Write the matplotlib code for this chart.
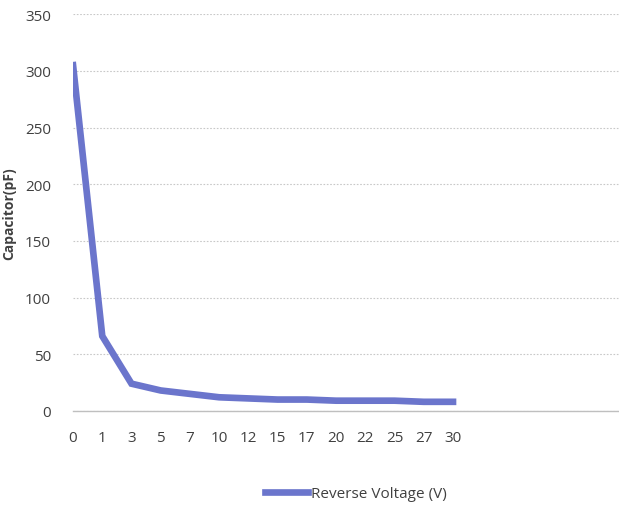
import matplotlib.pyplot as plt

plt.rcParams['font.family'] = ['Open Sans', 'DejaVu Sans']

voltage = ['0', '1', '3', '5', '7', '10', '12', '15', '17', '20', '22', '25', '27', '30']
capacitance = [305, 66, 24, 18, 15, 12, 11, 10, 10, 9, 9, 9, 8, 8]

fig = plt.figure(figsize=(6.19, 5.06), dpi=100)
ax = fig.add_axes([0.118, 0.186, 0.882, 0.784])

pos = list(range(len(voltage)))
ax.plot(pos, capacitance, color='#6b75cc', lw=4.8, solid_joinstyle='miter',
        label='Reverse Voltage (V)')

ax.set_ylim(0, 350)
ax.set_yticks(range(0, 351, 50))
ax.set_xlim(0, 18.68)
ax.set_xticks(pos)
ax.set_xticklabels(voltage)
ax.grid(axis='y', color='#c8c8c8', ls=(0, (1.5, 1.5)), lw=0.8)
ax.set_axisbelow(True)
for s in ['top', 'right', 'left']:
    ax.spines[s].set_visible(False)
ax.spines['bottom'].set_color('#bfbfbf')
ax.spines['bottom'].set_linewidth(1)
ax.tick_params(length=0, labelsize=11, colors='#404040', pad=14)
ax.tick_params(axis='y', pad=16)
ax.set_ylabel('Capacitor(pF)', fontsize=10, fontweight='bold', color='#404040', labelpad=6)

ax.legend(loc='center', bbox_to_anchor=(0.518, -0.209), frameon=False, fontsize=11,
          handlelength=2.8, handletextpad=0.2, labelcolor='#404040')

plt.savefig('out.png')
